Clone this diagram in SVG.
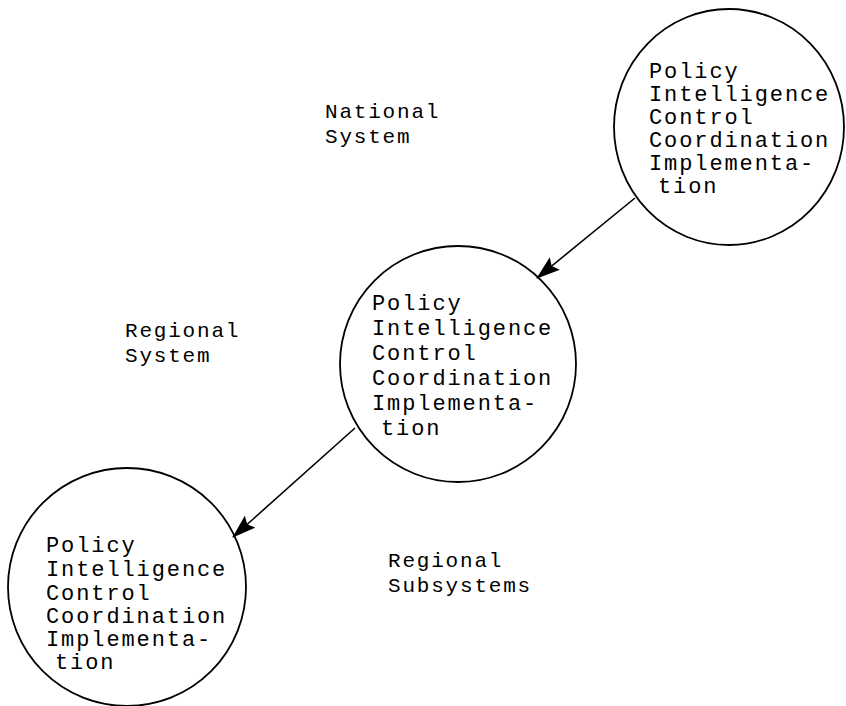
<svg xmlns="http://www.w3.org/2000/svg" width="846" height="706" viewBox="0 0 846 706">
<style>
.c{fill:none;stroke:#000;stroke-width:1.8}
.t{font-family:"Liberation Mono","Courier New",monospace;font-size:22px;letter-spacing:1.9px;fill:#000}
.l{font-family:"Liberation Mono","Courier New",monospace;font-size:21px;letter-spacing:1.8px;fill:#000}
.e{fill:none;stroke:#000;stroke-width:1.6}
</style>
<defs>
<marker id="ah" markerWidth="24" markerHeight="16" refX="23" refY="8" orient="auto" markerUnits="userSpaceOnUse">
<path d="M0,0 L24,8 L0,16 L4,8 Z" fill="#000"/>
</marker>
</defs>
<rect width="846" height="706" fill="#fff"/>
<g id="national">
<ellipse class="c" cx="729" cy="127" rx="115" ry="118"/>
<text class="t"><tspan x="649" y="78">Policy</tspan><tspan x="649" y="101">Intelligence</tspan><tspan x="649" y="124">Control</tspan><tspan x="649" y="147">Coordination</tspan><tspan x="649" y="170">Implementa-</tspan><tspan x="658" y="193">tion</tspan></text>
</g>
<g id="regional">
<circle class="c" cx="458" cy="364" r="118"/>
<text class="t"><tspan x="372" y="310">Policy</tspan><tspan x="372" y="335">Intelligence</tspan><tspan x="372" y="360">Control</tspan><tspan x="372" y="385">Coordination</tspan><tspan x="372" y="410">Implementa-</tspan><tspan x="381" y="435">tion</tspan></text>
</g>
<g id="subsystem">
<circle class="c" cx="127" cy="587" r="119"/>
<text class="t"><tspan x="46" y="552">Policy</tspan><tspan x="46" y="576">Intelligence</tspan><tspan x="46" y="600">Control</tspan><tspan x="46" y="623">Coordination</tspan><tspan x="46" y="646">Implementa-</tspan><tspan x="55" y="669">tion</tspan></text>
</g>
<g id="labels">
<text class="l"><tspan x="325" y="118">National</tspan><tspan x="325" y="143">System</tspan></text>
<text class="l"><tspan x="125" y="337">Regional</tspan><tspan x="125" y="362">System</tspan></text>
<text class="l"><tspan x="388" y="567">Regional</tspan><tspan x="388" y="592">Subsystems</tspan></text>
</g>
<g id="connectors">
<line class="e" x1="635" y1="198" x2="537" y2="278" marker-end="url(#ah)"/>
<line class="e" x1="355" y1="428" x2="233" y2="537" marker-end="url(#ah)"/>
</g>
</svg>
